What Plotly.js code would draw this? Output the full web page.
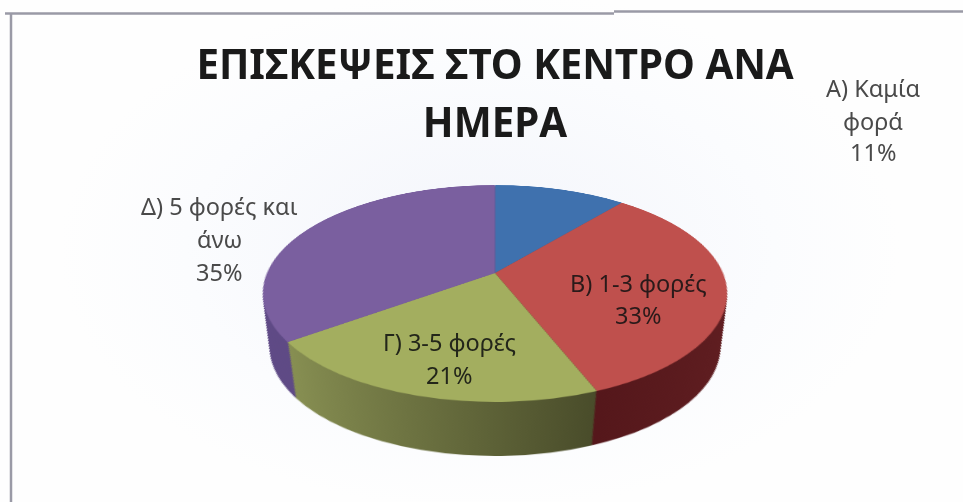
<!DOCTYPE html>
<html>
<head>
<meta charset="utf-8">
<script src="https://cdn.plot.ly/plotly-3.0.1.min.js"></script>
<style>
html,body{margin:0;padding:0;width:963px;height:502px;overflow:hidden;
background:radial-gradient(ellipse 420px 260px at 480px 250px,#f3f5fb 0%,#fbfcfe 70%,#fefefe 100%);}
#chart{width:963px;height:502px;}
</style>
</head>
<body>
<div id="chart"></div>
<script>
const categories = ['Α) Καμία φορά', 'Β) 1-3 φορές', 'Γ) 3-5 φορές', 'Δ) 5 φορές και άνω'];
const values = [11, 33, 21, 35];
const topColors = ['#3f71ae', '#bf504d', '#a3ae5f', '#7a5f9f'];
const sideColors = ['#2c4f7a', '#5a1c20', '#6e7440', '#5d4a80'];
const titleText = 'ΕΠΙΣΚΕΨΕΙΣ ΣΤΟ ΚΕΝΤΡΟ ΑΝΑ<br>ΗΜΕΡΑ';
const labelLinesA = ['Α) Καμία', 'φορά', '11%'];
const labelLinesB = ['Β) 1-3 φορές', '33%'];
const labelLinesC = ['Γ) 3-5 φορές', '21%'];
const labelLinesD = ['Δ) 5 φορές και', 'άνω', '35%'];

// view of the tilted disc, in page pixels
const apex = {x: 495, y: 273};
const ell = {top: 185, bottom: 402, rx: 232, rxFloor: 225, depth: 54};
const persp = {c: -0.189, a: 104.6, halfU: 228};
const srcR = 200, srcCx = 481.5, srcCy = 230;

const W = 963, H = 502;
const depths = [];
for (let d = ell.depth; d >= 0; d--) depths.push(d);

const traces = depths.map(d => ({
  type: 'pie', values: values, labels: categories, sort: false,
  direction: 'clockwise', rotation: 0, textinfo: 'none', hoverinfo: 'skip',
  showlegend: false,
  marker: {colors: d === 0 ? topColors : sideColors, line: {width: 0}},
  domain: {x: [(srcCx - srcR) / W, (srcCx + srcR) / W],
           y: [(H - srcCy - srcR) / H, (H - srcCy + srcR) / H]}
}));

function lineAnnotations(lines, x, ys, size, color) {
  return lines.map((t, i) => ({
    text: t, x: x, y: ys[i], xref: 'paper', yref: 'paper', xanchor: 'center', yanchor: 'middle',
    showarrow: false, font: {family: 'Noto Sans, Open Sans, sans-serif', size: size, color: color}
  }));
}
const py = y => 1 - y / H;
const annotations = [].concat(
  lineAnnotations(labelLinesA, 873 / W, [88, 121, 152].map(py), 23.5, '#4a4a4a'),
  lineAnnotations(labelLinesD, 219 / W, [206, 239, 272].map(py), 23.5, '#4a4a4a'),
  lineAnnotations(labelLinesB, 638 / W, [283, 315].map(py), 23.5, '#2a1a1a'),
  lineAnnotations(labelLinesC, 449 / W, [342, 375].map(py), 23.5, '#23261a')
);

const frame = [
  {x0: 5 / W, x1: 614 / W, y0: py(13.5), y1: py(13.5)},
  {x0: 614 / W, x1: 1, y0: py(11.5), y1: py(11.5)},
  {x0: 11 / W, x1: 11 / W, y0: py(13.5), y1: 0}
].map(s => Object.assign({type: 'line', xref: 'paper', yref: 'paper',
  line: {color: '#9a9aa6', width: 2.5}}, s));

const layout = {
  width: W, height: H,
  margin: {l: 0, r: 0, t: 0, b: 0},
  paper_bgcolor: 'rgba(0,0,0,0)',
  plot_bgcolor: 'rgba(0,0,0,0)',
  title: {text: titleText, x: 495 / W, xanchor: 'center', y: py(82), yanchor: 'middle',
    font: {family: 'Noto Sans, Open Sans, sans-serif', size: 40.3, color: '#1a1a1a', weight: 700}},
  annotations: annotations,
  shapes: frame
};

Plotly.newPlot('chart', traces, layout, {displayModeBar: false, staticPlot: true}).then(gd => {
  const base = gd.calcdata[0][0];
  const cx = base.cx, cy = base.cy, R = base.r;
  const svg = gd.querySelectorAll('.main-svg')[0];
  const {c, a, halfU} = persp;

  // title line spacing as in the reference
  const titleLines = gd.querySelectorAll('.gtitle tspan.line');
  if (titleLines.length === 2) {
    const y0 = parseFloat(titleLines[0].getAttribute('y'));
    const y1 = parseFloat(titleLines[1].getAttribute('y'));
    if (!isNaN(y0) && !isNaN(y1)) {
      titleLines[0].setAttribute('y', y0 - 3);
      titleLines[1].setAttribute('y', y1 + 3);
    }
  }

  // gradients along the rim
  const NS = 'http://www.w3.org/2000/svg';
  const defs = svg.querySelector('defs') || svg.insertBefore(document.createElementNS(NS, 'defs'), svg.firstChild);
  function grad(id, c1, c2) {
    const g = document.createElementNS(NS, 'linearGradient');
    g.setAttribute('id', id);
    [[0, c1], [1, c2]].forEach(([o, col]) => {
      const s = document.createElementNS(NS, 'stop');
      s.setAttribute('offset', o); s.setAttribute('stop-color', col);
      g.appendChild(s);
    });
    defs.appendChild(g);
    return 'url(#' + id + ')';
  }
  const rim = [null, grad('rimB', '#4e1317', '#601e21'), grad('rimC', '#878f52', '#494c2a'), grad('rimD', '#5f4a86', '#5c4a80')];

  const vOf = y => { const t = y - apex.y; return t / (a - c * t); };
  const yOf = v => apex.y + a * v / (1 + c * v);
  const ellCy = (ell.top + ell.bottom) / 2, ellRy = (ell.bottom - ell.top) / 2;

  svg.querySelectorAll('.pielayer .trace').forEach((g, i) => {
    const d = depths[i];
    if (d === 0) return;
    const v1 = vOf(ell.top + d), v2 = vOf(ell.bottom + d);
    const v0 = (v1 + v2) / 2, rv = (v2 - v1) / 2;
    const y0 = yOf(v0), w0 = 1 + c * v0;
    const rx = ell.rx - (ell.rx - ell.rxFloor) * d / ell.depth;
    const k = (y0 - ellCy - d) / ellRy;
    const ru = rx * Math.sqrt(1 - k * k) * w0 / halfU;
    g.setAttribute('transform',
      `translate(${cx},${cy + v0 * R}) scale(${ru},${rv}) translate(${-cx},${-cy})`);
    g.querySelectorAll('path.surface').forEach((p, j) => { if (rim[j]) p.style.fill = rim[j]; });
  });

  // perspective of the whole disc layer
  const K = c / R, w = 1 - K * cy;
  const m = [
    halfU / R, 0, 0, 0,
    apex.x * K, apex.y * K + a / R, 0, K,
    0, 0, 1, 0,
    apex.x * w - halfU * cx / R, apex.y * w - a * cy / R, 0, w
  ];
  svg.style.transformOrigin = '0 0';
  svg.style.transform = `matrix3d(${m.join(',')})`;
  svg.style.overflow = 'visible';
  svg.style.filter = 'blur(0.5px)';
});
</script>
</body>
</html>
